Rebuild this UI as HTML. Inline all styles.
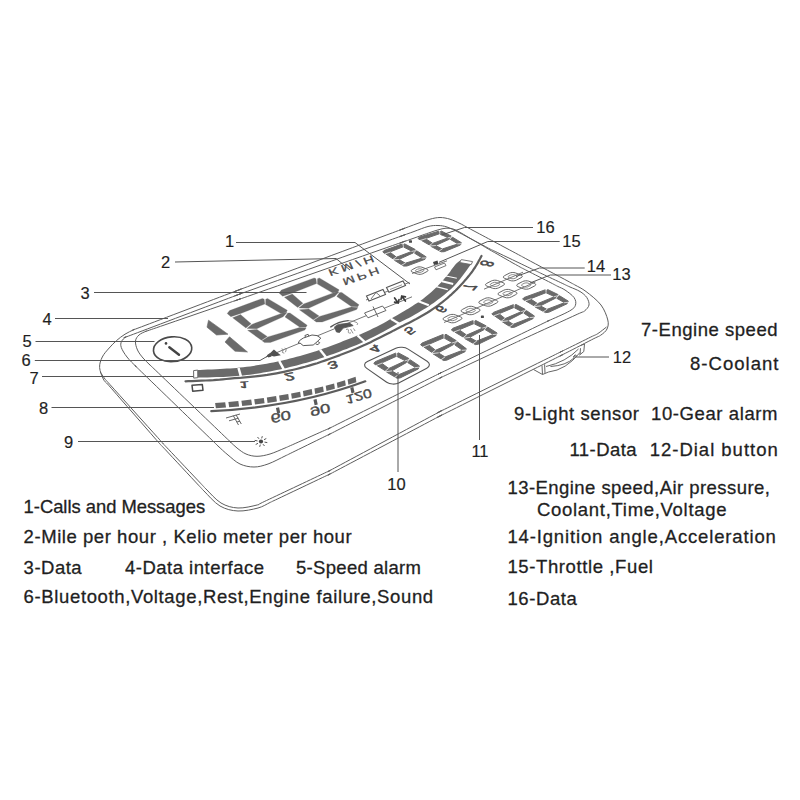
<!DOCTYPE html>
<html><head><meta charset="utf-8"><title>HUD diagram</title>
<style>
html,body{margin:0;padding:0;background:#fff;}
body{width:800px;height:800px;overflow:hidden;}
svg{display:block;font-family:"Liberation Sans",sans-serif;}
</style></head><body>
<svg width="800" height="800" viewBox="0 0 800 800">
<rect width="800" height="800" fill="#fff"/>
<path d="M134.0 329.6 C136.7 328.4 125.1 333.0 141.5 326.8 C157.9 320.6 216.1 298.5 232.5 292.3 C248.9 286.1 237.5 290.4 240.0 289.5 C242.5 288.6 222.1 296.2 247.5 286.7 C272.9 277.3 367.1 242.2 392.5 232.8 C417.9 223.3 395.8 231.6 400.0 230.0 C404.2 228.4 413.0 225.1 418.0 223.3 C423.0 221.5 426.3 220.2 430.0 219.2 C433.7 218.2 436.7 217.5 440.0 217.5 C443.3 217.5 446.7 218.2 450.0 219.2 C453.3 220.2 457.2 222.2 460.0 223.5 C462.8 224.8 463.2 225.2 467.1 227.3 C470.9 229.3 479.1 233.7 482.9 235.7 C486.8 237.8 487.6 238.2 490.0 239.5 C492.4 240.8 493.2 241.2 497.1 243.3 C500.9 245.3 509.1 249.7 512.9 251.7 C516.8 253.8 517.6 254.2 520.0 255.5 C522.4 256.8 519.1 255.0 527.0 259.3 C535.0 263.6 560.0 276.9 568.0 281.2 C575.9 285.5 572.0 283.3 575.0 285.0 C578.0 286.7 581.7 288.2 586.0 291.5 C590.3 294.8 597.4 300.2 601.0 305.0 C604.6 309.8 606.8 316.0 607.8 320.0 C608.8 324.0 608.1 326.5 607.0 329.0 C605.9 331.5 603.2 333.4 601.0 335.0 C598.8 336.6 599.5 335.8 593.9 338.6 C588.2 341.5 572.8 349.5 567.1 352.4 C561.5 355.2 562.4 354.8 560.0 356.0 C557.6 357.2 571.7 350.2 552.8 359.6 C534.0 369.0 466.0 403.0 447.2 412.4 C428.3 421.8 442.4 414.8 440.0 416.0 C437.6 417.2 450.1 410.7 432.9 419.7 C415.8 428.8 354.2 461.2 337.1 470.3 C319.9 479.3 332.4 472.8 330.0 474.0 C327.6 475.2 331.6 473.3 322.8 477.4 C314.0 481.6 286.0 494.9 277.2 499.1 C268.4 503.2 273.2 501.0 270.0 502.5 C266.8 504.0 263.3 506.6 258.0 508.0 C252.7 509.4 244.3 511.3 238.0 511.0 C231.7 510.7 225.7 509.3 220.0 506.0 C214.3 502.7 207.6 494.5 204.0 491.0 C200.4 487.5 205.0 492.0 198.5 485.2 C192.1 478.3 171.9 456.7 165.5 449.8 C159.0 443.0 161.8 446.0 160.0 444.0 C158.2 442.0 162.6 447.0 154.7 438.0 C146.9 429.0 120.6 399.0 112.8 390.0 C104.9 381.0 109.1 385.8 107.5 384.0 C105.9 382.2 104.6 381.8 103.3 379.0 C102.0 376.2 99.8 371.2 99.6 367.5 C99.4 363.8 100.7 360.2 102.3 357.0 C103.9 353.8 106.8 350.7 109.2 348.0 C111.6 345.3 113.9 342.9 116.5 340.6 C119.1 338.3 122.1 336.0 125.0 334.2 C127.9 332.4 131.3 330.8 134.0 329.6 Z" fill="none" stroke="#5e5e5e" stroke-width="1" />
<path d="M126.0 337.0 C128.0 335.8 115.7 340.9 133.5 334.2 C151.2 327.5 214.8 303.5 232.5 296.8 C250.3 290.1 237.5 294.9 240.0 294.0 C242.5 293.1 222.1 300.4 247.5 291.3 C272.9 282.2 367.1 248.3 392.5 239.2 C417.9 230.1 396.4 237.8 400.0 236.5 C403.6 235.2 409.3 233.2 414.0 231.5 C418.7 229.8 424.0 227.5 428.0 226.5 C432.0 225.5 434.8 225.4 438.0 225.5 C441.2 225.6 443.7 225.9 447.0 227.0 C450.3 228.1 455.0 230.5 458.0 232.0 C461.0 233.5 460.9 233.5 465.1 235.8 C469.2 238.0 478.8 243.0 482.9 245.2 C487.1 247.5 487.6 247.8 490.0 249.0 C492.4 250.2 490.9 249.4 497.2 252.4 C503.5 255.5 521.5 264.0 527.8 267.1 C534.1 270.1 532.6 269.4 535.0 270.5 C537.4 271.6 537.6 271.7 542.2 273.9 C546.9 276.1 558.1 281.4 562.8 283.6 C567.4 285.8 567.1 285.7 570.0 287.0 C572.9 288.3 577.2 289.8 580.0 291.5 C582.8 293.2 585.2 295.2 586.8 297.5 C588.2 299.8 589.4 302.8 589.0 305.0 C588.6 307.2 586.5 309.4 584.5 311.0 C582.5 312.6 586.8 310.0 577.2 314.3 C567.7 318.7 536.8 332.8 527.3 337.2 C517.7 341.5 522.4 339.4 520.0 340.5 C517.6 341.6 524.9 338.2 512.8 343.9 C500.6 349.6 459.4 368.9 447.2 374.6 C435.1 380.3 442.4 376.8 440.0 378.0 C437.6 379.2 450.0 372.9 432.9 381.6 C415.7 390.4 354.3 421.6 337.1 430.4 C320.0 439.1 332.4 432.8 330.0 434.0 C327.6 435.2 329.1 434.4 322.8 437.5 C316.5 440.6 298.5 449.4 292.2 452.5 C285.9 455.6 289.0 454.1 285.0 456.0 C281.0 457.9 273.2 462.2 268.0 464.0 C262.8 465.8 258.7 467.0 254.0 467.0 C249.3 467.0 244.3 466.0 240.0 464.0 C235.7 462.0 231.7 458.0 228.0 455.0 C224.3 452.0 220.6 448.4 218.0 446.0 C215.4 443.6 225.0 452.8 212.3 440.4 C199.5 428.1 154.5 384.4 141.7 372.1 C129.0 359.7 138.5 369.0 136.0 366.5 C133.5 364.0 129.4 360.2 127.0 357.0 C124.5 353.8 122.2 350.1 121.3 347.5 C120.4 344.9 120.7 343.2 121.5 341.5 C122.3 339.8 124.0 338.2 126.0 337.0 Z" fill="none" stroke="#5e5e5e" stroke-width="1" />
<path d="M146.0 331.3 C148.4 330.3 139.2 333.7 153.6 328.7 C168.0 323.8 218.0 306.5 232.4 301.6 C246.8 296.6 237.5 299.9 240.0 299.0 C242.5 298.1 222.1 305.3 247.6 296.4 C273.0 287.5 367.0 254.5 392.4 245.6 C417.9 236.7 397.5 243.9 400.0 243.0 C402.5 242.1 403.8 241.7 407.6 240.4 C411.3 239.0 418.7 236.5 422.4 235.1 C426.2 233.8 427.4 233.4 430.0 232.5 C432.6 231.6 435.3 230.6 438.0 229.9 C440.7 229.2 443.3 228.3 446.0 228.2 C448.7 228.1 451.3 228.4 454.0 229.3 C456.7 230.2 459.5 232.1 462.0 233.5 C464.5 234.9 465.4 235.5 468.9 237.6 C472.4 239.6 479.6 243.9 483.1 245.9 C486.6 248.0 487.7 248.7 490.0 250.0 C492.3 251.3 493.1 251.8 497.0 253.9 C500.8 256.1 509.2 260.9 513.0 263.1 C516.9 265.2 517.7 265.7 520.0 267.0 C522.3 268.3 522.0 268.0 527.1 270.7 C532.3 273.3 545.7 280.2 550.9 282.8 C556.0 285.5 555.6 285.3 558.0 286.5 C560.4 287.7 562.3 288.2 565.0 290.0 C567.7 291.8 572.2 295.0 574.0 297.5 C575.8 300.0 576.2 302.8 575.5 305.0 C574.8 307.2 574.1 308.3 569.5 311.0 C564.9 313.7 552.8 318.8 548.0 321.0 C543.2 323.2 557.6 316.4 540.8 324.5 C524.0 332.6 464.0 361.6 447.2 369.8 C430.4 377.9 442.4 372.1 440.0 373.2 C437.6 374.4 450.0 368.3 432.8 376.8 C415.7 385.3 354.3 415.9 337.2 424.4 C320.0 433.0 332.4 426.9 330.0 428.0 C327.6 429.1 329.0 428.5 322.7 431.2 C316.4 434.0 298.6 442.0 292.3 444.8 C286.0 447.5 288.7 446.5 285.0 448.0 C281.3 449.5 274.7 452.6 270.0 454.0 C265.3 455.4 261.0 456.3 257.0 456.3 C253.0 456.3 249.3 455.4 246.0 454.0 C242.7 452.6 239.7 450.1 237.0 448.0 C234.3 445.9 232.1 443.5 230.0 441.5 C227.9 439.5 236.6 447.8 224.2 436.0 C211.8 424.1 168.2 382.4 155.8 370.5 C143.4 358.7 152.1 367.1 150.0 365.0 C147.9 362.9 145.1 360.5 143.0 358.0 C140.9 355.5 138.8 352.8 137.5 350.0 C136.2 347.2 135.2 343.5 135.5 341.0 C135.8 338.5 137.2 336.6 139.0 335.0 C140.8 333.4 143.6 332.3 146.0 331.3 Z" fill="none" stroke="#5e5e5e" stroke-width="1" />
<path d="M100.3 372.0 C101.0 373.1 103.0 376.4 104.6 378.5 C106.2 380.6 101.1 374.6 109.9 384.5 C118.8 394.3 148.8 427.7 157.7 437.5 C166.5 447.4 161.2 441.5 163.0 443.5 C164.8 445.5 162.2 442.7 168.5 449.3 C174.7 455.9 194.3 476.6 200.5 483.2 C206.8 489.8 202.6 485.7 206.0 489.0 C209.4 492.3 215.7 499.8 221.0 503.0 C226.3 506.2 232.0 507.7 238.0 508.0 C244.0 508.3 252.6 506.1 257.0 505.0 C261.4 503.9 253.3 506.8 264.2 501.6 C275.2 496.4 311.8 479.1 322.8 473.9 C333.7 468.7 327.6 471.7 330.0 470.5 C332.4 469.3 319.9 475.9 337.0 466.7 C354.2 457.5 415.8 424.5 433.0 415.3 C450.1 406.1 437.6 412.7 440.0 411.5 C442.4 410.3 428.4 417.2 447.2 408.0 C466.0 398.7 534.0 365.1 552.8 355.8 C571.6 346.5 557.6 353.4 560.0 352.2 C562.4 351.1 562.0 351.2 567.2 348.7 C572.3 346.2 585.7 339.6 590.8 337.0 C596.0 334.5 595.4 335.2 598.0 333.5 C600.6 331.8 605.1 328.1 606.5 327.0 " fill="none" stroke="#5e5e5e" stroke-width="1" />
<polygon points="197.7,370.0 200.2,369.9 203.6,369.8 207.6,369.6 211.9,369.4 216.2,369.2 220.0,369.0 223.5,368.8 226.8,368.6 230.1,368.4 233.4,368.2 236.7,367.9 240.0,367.6 243.3,367.2 246.7,366.8 250.0,366.4 253.3,365.9 256.7,365.3 260.0,364.8 263.3,364.2 266.7,363.7 270.0,363.0 273.3,362.4 276.7,361.7 280.0,361.0 283.3,360.2 286.7,359.4 290.0,358.6 293.3,357.7 296.7,356.8 300.0,355.9 303.3,355.0 306.7,354.0 310.0,353.0 313.3,352.0 316.7,350.9 320.0,349.8 323.3,348.6 326.7,347.5 330.0,346.2 333.3,345.0 336.7,343.7 340.0,342.4 343.3,341.1 346.7,339.8 350.0,338.5 353.3,337.2 356.7,335.8 360.0,334.4 363.3,332.9 366.7,331.4 370.0,329.9 373.3,328.3 376.7,326.7 380.0,325.0 383.4,323.2 386.9,321.2 390.5,319.1 393.9,317.1 397.1,315.2 400.0,313.5 402.5,312.0 404.7,310.7 406.7,309.6 408.6,308.4 410.5,307.3 412.5,306.0 414.6,304.6 416.7,303.3 418.8,301.9 420.8,300.4 422.9,298.9 425.0,297.3 427.1,295.6 429.3,293.8 431.4,291.9 433.5,290.0 435.6,288.1 437.5,286.2 439.3,284.3 441.1,282.4 442.8,280.5 444.4,278.6 446.0,276.8 447.5,275.0 448.9,273.2 450.3,271.4 451.5,269.6 452.7,267.9 453.9,266.4 455.0,265.0 456.1,263.8 457.2,262.8 458.2,262.0 459.1,261.3 459.9,260.7 460.5,260.2 472.3,262.3 471.5,263.4 470.5,264.9 469.3,266.6 467.9,268.6 466.5,270.5 465.0,272.5 463.5,274.5 462.0,276.5 460.3,278.7 458.6,280.8 456.8,283.0 455.0,285.0 453.1,287.0 451.1,288.9 449.0,290.8 446.9,292.6 444.7,294.4 442.5,296.2 440.3,297.9 438.1,299.6 435.9,301.3 433.6,302.9 431.2,304.6 428.8,306.2 426.1,307.9 423.4,309.6 420.5,311.3 417.7,313.0 415.0,314.6 412.5,316.0 410.3,317.2 408.3,318.2 406.5,319.1 404.6,320.0 402.5,321.0 400.0,322.3 397.1,323.9 393.9,325.7 390.5,327.7 386.9,329.7 383.4,331.7 380.0,333.5 376.7,335.2 373.3,337.0 370.0,338.6 366.7,340.3 363.3,341.9 360.0,343.4 356.7,344.9 353.3,346.2 350.0,347.6 346.7,348.9 343.3,350.1 340.0,351.4 336.7,352.7 333.3,353.9 330.0,355.1 326.7,356.3 323.3,357.5 320.0,358.6 316.7,359.7 313.3,360.7 310.0,361.7 306.7,362.7 303.3,363.6 300.0,364.5 296.7,365.4 293.3,366.2 290.0,367.1 286.7,367.9 283.3,368.7 280.0,369.4 276.7,370.1 273.3,370.8 270.0,371.4 266.7,372.1 263.3,372.6 260.0,373.2 256.7,373.7 253.3,374.2 250.0,374.7 246.7,375.1 243.3,375.5 240.0,375.8 236.7,376.1 233.4,376.3 230.1,376.5 226.8,376.7 223.5,376.9 220.0,377.0 216.2,377.1 211.9,377.3 207.6,377.4 203.6,377.5 200.2,377.5 197.7,377.6" fill="#6a6a6a" />
<polyline points="185.5,381.3 188.2,381.2 192.0,381.1 196.5,380.9 201.3,380.7 205.9,380.5 210.0,380.3 213.5,380.1 216.6,379.8 219.7,379.6 222.8,379.3 226.1,379.0 230.0,378.6 234.5,378.2 239.6,377.8 245.0,377.3 250.4,376.8 255.5,376.3 260.0,375.8 263.9,375.3 267.2,374.9 270.3,374.4 273.3,373.9 276.5,373.3 280.0,372.6 283.9,371.8 288.0,370.9 292.2,370.0 296.5,369.0 300.8,367.9 305.0,366.8 309.1,365.6 313.1,364.4 317.2,363.2 321.3,361.8 325.5,360.4 330.0,358.8 334.8,357.0 340.0,355.1 345.3,353.0 350.6,350.9 355.5,348.9 360.0,347.0 363.9,345.3 367.4,343.7 370.6,342.2 373.7,340.6 376.8,339.1 380.0,337.5 383.4,335.8 386.9,334.0 390.5,332.2 393.9,330.4 397.1,328.8 400.0,327.3 402.5,326.1 404.5,325.0 406.4,324.1 408.2,323.2 410.2,322.2 412.5,321.0 415.2,319.6 418.1,318.0 421.1,316.3 424.2,314.5 427.2,312.8 430.0,311.0 432.7,309.2 435.3,307.4 437.8,305.6 440.3,303.7 442.7,301.9 445.0,300.0 447.3,298.1 449.4,296.2 451.6,294.3 453.6,292.4 455.6,290.5 457.5,288.6 459.3,286.7 461.1,284.8 462.8,283.0 464.4,281.1 466.0,279.3 467.5,277.5 468.9,275.8 470.2,274.1 471.5,272.5 472.7,270.9 473.8,269.2 475.0,267.5 476.2,265.5 477.5,263.4 478.7,261.1 479.9,259.0 480.8,257.3 481.5,256.0" fill="none" stroke="#606060" stroke-width="2.2" stroke-linecap="round" stroke-linejoin="round"/>
<polygon points="193.6,370.6 197.7,370.1 197.8,377.7 193.7,378.1" fill="#fff" stroke="#6a6a6a" stroke-width="1" stroke-linejoin="round"/>
<polygon points="461.3,259.6 472.6,261.6 471.2,264.6 459.6,262.5" fill="#fff" stroke="#6a6a6a" stroke-width="0.9" stroke-linejoin="round"/>
<line x1="238.5" y1="368.0" x2="240.9" y2="376.4" stroke="#fff" stroke-width="2.5"/>
<line x1="279.2" y1="361.0" x2="283.8" y2="369.4" stroke="#fff" stroke-width="2.5"/>
<line x1="320.0" y1="349.8" x2="326.4" y2="357.8" stroke="#fff" stroke-width="2.4"/>
<line x1="357.5" y1="335.4" x2="365.5" y2="342.6" stroke="#fff" stroke-width="2.3"/>
<line x1="390.9" y1="318.8" x2="400.1" y2="324.2" stroke="#fff" stroke-width="2.2"/>
<line x1="418.4" y1="301.3" x2="428.8" y2="305.3" stroke="#fff" stroke-width="2.0"/>
<line x1="436.2" y1="286.6" x2="447.8" y2="289.6" stroke="#fff" stroke-width="1.2"/>
<line x1="442.0" y1="281.2" x2="453.2" y2="284.0" stroke="#fff" stroke-width="2.2"/>
<line x1="446.0" y1="276.0" x2="456.8" y2="278.2" stroke="#fff" stroke-width="1.1"/>
<polygon points="279.0,293.0 281.4,290.1 314.2,277.9 316.0,278.7 316.6,283.6 293.2,292.7 282.7,296.2" fill="#6a6a6a" stroke="#6a6a6a" stroke-width="0.25" stroke-linejoin="round"/>
<polygon points="284.4,297.2 292.3,294.0 302.9,303.2 297.7,307.5" fill="#6a6a6a" stroke="#6a6a6a" stroke-width="0.25" stroke-linejoin="round"/>
<polygon points="298.8,308.0 303.6,303.9 335.9,291.9 338.9,292.1 334.9,296.3 308.6,308.3" fill="#6a6a6a" stroke="#6a6a6a" stroke-width="0.25" stroke-linejoin="round"/>
<polygon points="299.4,309.8 308.8,308.9 319.0,315.9 313.3,319.8" fill="#6a6a6a" stroke="#6a6a6a" stroke-width="0.25" stroke-linejoin="round"/>
<polygon points="317.5,278.7 319.3,277.9 339.1,289.8 338.1,291.7 332.8,293.1 317.4,284.1" fill="#6a6a6a" stroke="#6a6a6a" stroke-width="0.25" stroke-linejoin="round"/>
<polygon points="339.6,292.6 341.8,292.4 359.0,304.8 357.7,306.8 351.3,306.5 336.8,296.5" fill="#6a6a6a" stroke="#6a6a6a" stroke-width="0.25" stroke-linejoin="round"/>
<polygon points="313.8,320.2 319.5,316.4 351.3,307.0 357.9,307.4 356.6,309.6 322.2,322.0 316.3,322.1" fill="#6a6a6a" stroke="#6a6a6a" stroke-width="0.25" stroke-linejoin="round"/>
<polygon points="227.2,313.5 229.6,310.6 262.4,298.4 264.2,299.2 264.8,304.1 241.4,313.2 230.9,316.7" fill="#6a6a6a" stroke="#6a6a6a" stroke-width="0.25" stroke-linejoin="round"/>
<polygon points="232.6,317.7 240.5,314.5 251.1,323.7 245.9,328.0" fill="#6a6a6a" stroke="#6a6a6a" stroke-width="0.25" stroke-linejoin="round"/>
<polygon points="247.0,328.5 251.8,324.4 284.1,312.4 287.1,312.6 283.1,316.8 256.8,328.8" fill="#6a6a6a" stroke="#6a6a6a" stroke-width="0.25" stroke-linejoin="round"/>
<polygon points="247.6,330.3 257.0,329.4 267.2,336.4 261.5,340.3" fill="#6a6a6a" stroke="#6a6a6a" stroke-width="0.25" stroke-linejoin="round"/>
<polygon points="265.7,299.2 267.5,298.4 287.3,310.3 286.3,312.2 281.0,313.6 265.6,304.6" fill="#6a6a6a" stroke="#6a6a6a" stroke-width="0.25" stroke-linejoin="round"/>
<polygon points="287.8,313.1 290.0,312.9 307.2,325.3 305.9,327.3 299.5,327.0 285.0,317.0" fill="#6a6a6a" stroke="#6a6a6a" stroke-width="0.25" stroke-linejoin="round"/>
<polygon points="262.0,340.7 267.7,336.9 299.5,327.5 306.1,327.9 304.8,330.1 270.4,342.5 264.5,342.6" fill="#6a6a6a" stroke="#6a6a6a" stroke-width="0.25" stroke-linejoin="round"/>
<polygon points="208.5,320.2 228.0,334.2 216.5,335.0 207.0,327.2" fill="#6a6a6a" stroke="#6a6a6a" stroke-width="0.6" stroke-linejoin="round"/>
<polygon points="229.5,336.8 247.5,352.0 235.0,351.2 225.0,342.0" fill="#6a6a6a" stroke="#6a6a6a" stroke-width="0.6" stroke-linejoin="round"/>
<polygon points="382.8,252.0 384.0,250.5 401.9,244.0 402.9,244.3 403.2,246.8 390.5,251.7 384.8,253.6" fill="#6a6a6a" stroke="#6a6a6a" stroke-width="1.0" stroke-linejoin="round"/>
<polygon points="385.8,254.0 390.1,252.3 396.0,256.8 393.3,259.0" fill="#6a6a6a" stroke="#6a6a6a" stroke-width="1.0" stroke-linejoin="round"/>
<polygon points="393.9,259.3 396.4,257.2 413.7,250.7 415.3,250.8 413.2,252.9 399.2,259.3" fill="#6a6a6a" stroke="#6a6a6a" stroke-width="1.0" stroke-linejoin="round"/>
<polygon points="394.3,260.2 399.3,259.6 405.0,263.0 402.0,265.0" fill="#6a6a6a" stroke="#6a6a6a" stroke-width="1.0" stroke-linejoin="round"/>
<polygon points="403.7,244.3 404.7,243.9 415.4,249.6 414.9,250.6 412.0,251.3 403.6,247.0" fill="#6a6a6a" stroke="#6a6a6a" stroke-width="1.0" stroke-linejoin="round"/>
<polygon points="415.7,251.0 416.9,250.9 426.2,256.9 425.6,257.9 422.1,257.9 414.3,253.0" fill="#6a6a6a" stroke="#6a6a6a" stroke-width="1.0" stroke-linejoin="round"/>
<polygon points="402.3,265.2 405.3,263.2 422.1,258.1 425.7,258.2 425.0,259.3 406.9,266.0 403.7,266.1" fill="#6a6a6a" stroke="#6a6a6a" stroke-width="1.0" stroke-linejoin="round"/>
<polyline points="384.6,254.1 390.5,252.0" fill="none" stroke="#fff" stroke-width="0.7" />
<polyline points="402.8,243.7 403.5,246.8" fill="none" stroke="#fff" stroke-width="0.7" />
<polyline points="392.6,259.7 396.3,257.0" fill="none" stroke="#fff" stroke-width="0.7" />
<polyline points="393.5,259.9 399.4,259.4" fill="none" stroke="#fff" stroke-width="0.7" />
<polyline points="411.5,251.5 414.7,250.7 416.0,249.5" fill="none" stroke="#fff" stroke-width="0.7" />
<polyline points="415.7,250.7 413.7,253.0" fill="none" stroke="#fff" stroke-width="0.7" />
<polyline points="401.2,265.5 405.5,263.0" fill="none" stroke="#fff" stroke-width="0.7" />
<polyline points="421.7,258.1 426.5,257.9" fill="none" stroke="#fff" stroke-width="0.7" />
<polygon points="418.0,238.5 419.3,237.1 438.6,231.2 439.5,231.5 439.6,233.7 426.3,238.3 420.3,240.0" fill="#6a6a6a" stroke="#6a6a6a" stroke-width="1.0" stroke-linejoin="round"/>
<polygon points="421.4,240.4 425.9,238.9 432.2,243.0 429.6,245.1" fill="#6a6a6a" stroke="#6a6a6a" stroke-width="1.0" stroke-linejoin="round"/>
<polygon points="430.3,245.4 432.7,243.4 449.7,237.2 451.3,237.3 449.2,239.3 435.7,245.4" fill="#6a6a6a" stroke="#6a6a6a" stroke-width="1.0" stroke-linejoin="round"/>
<polygon points="430.8,246.3 435.8,245.6 441.9,248.8 439.3,250.8" fill="#6a6a6a" stroke="#6a6a6a" stroke-width="1.0" stroke-linejoin="round"/>
<polygon points="440.4,231.5 441.4,231.1 451.5,236.2 450.9,237.1 448.1,237.8 440.0,234.0" fill="#6a6a6a" stroke="#6a6a6a" stroke-width="1.0" stroke-linejoin="round"/>
<polygon points="451.7,237.5 452.8,237.4 461.4,242.7 460.9,243.7 457.7,243.7 450.2,239.3" fill="#6a6a6a" stroke="#6a6a6a" stroke-width="1.0" stroke-linejoin="round"/>
<polygon points="439.6,251.0 442.2,249.0 457.7,244.0 461.0,243.9 460.4,245.0 444.2,251.7 441.1,251.8" fill="#6a6a6a" stroke="#6a6a6a" stroke-width="1.0" stroke-linejoin="round"/>
<polyline points="420.1,240.5 426.2,238.6" fill="none" stroke="#fff" stroke-width="0.7" />
<polyline points="439.5,230.9 439.9,233.8" fill="none" stroke="#fff" stroke-width="0.7" />
<polyline points="429.1,245.8 432.5,243.2" fill="none" stroke="#fff" stroke-width="0.7" />
<polyline points="430.0,246.0 435.9,245.5" fill="none" stroke="#fff" stroke-width="0.7" />
<polyline points="447.6,237.9 450.7,237.2 452.0,236.1" fill="none" stroke="#fff" stroke-width="0.7" />
<polyline points="451.7,237.2 449.6,239.3" fill="none" stroke="#fff" stroke-width="0.7" />
<polyline points="438.6,251.3 442.4,248.9" fill="none" stroke="#fff" stroke-width="0.7" />
<polyline points="457.3,243.9 461.7,243.7" fill="none" stroke="#fff" stroke-width="0.7" />
<rect x="409" y="240.2" width="3" height="2.6" rx="0.6" fill="#4a4a4a"/>
<polygon points="420.6,344.8 422.1,343.0 442.9,334.5 443.9,334.9 443.9,337.8 429.4,344.1 422.9,346.5" fill="#6a6a6a" stroke="#6a6a6a" stroke-width="1.0" stroke-linejoin="round"/>
<polygon points="423.9,347.0 428.8,344.9 435.1,349.9 432.1,352.6" fill="#6a6a6a" stroke="#6a6a6a" stroke-width="1.0" stroke-linejoin="round"/>
<polygon points="432.7,352.9 435.5,350.3 454.3,342.0 456.0,342.0 453.5,344.6 438.4,352.7" fill="#6a6a6a" stroke="#6a6a6a" stroke-width="1.0" stroke-linejoin="round"/>
<polygon points="433.2,353.9 438.6,353.0 444.6,356.7 441.6,359.3" fill="#6a6a6a" stroke="#6a6a6a" stroke-width="1.0" stroke-linejoin="round"/>
<polygon points="444.8,334.8 446.0,334.3 456.3,340.7 455.6,341.8 452.5,342.8 444.3,338.1" fill="#6a6a6a" stroke="#6a6a6a" stroke-width="1.0" stroke-linejoin="round"/>
<polygon points="456.4,342.3 457.6,342.1 466.4,348.8 465.6,350.0 462.2,350.1 454.6,344.7" fill="#6a6a6a" stroke="#6a6a6a" stroke-width="1.0" stroke-linejoin="round"/>
<polygon points="441.9,359.4 444.9,357.0 462.2,350.4 465.7,350.4 465.0,351.7 446.7,360.2 443.4,360.5" fill="#6a6a6a" stroke="#6a6a6a" stroke-width="1.0" stroke-linejoin="round"/>
<polyline points="422.6,347.2 429.3,344.5" fill="none" stroke="#fff" stroke-width="0.7" />
<polyline points="444.0,334.1 444.1,337.9" fill="none" stroke="#fff" stroke-width="0.7" />
<polyline points="431.4,353.4 435.4,350.1" fill="none" stroke="#fff" stroke-width="0.7" />
<polyline points="432.4,353.6 438.7,352.8" fill="none" stroke="#fff" stroke-width="0.7" />
<polyline points="451.9,343.0 455.4,342.0 456.9,340.5" fill="none" stroke="#fff" stroke-width="0.7" />
<polyline points="456.4,341.9 454.0,344.7" fill="none" stroke="#fff" stroke-width="0.7" />
<polyline points="440.8,359.9 445.1,356.8" fill="none" stroke="#fff" stroke-width="0.7" />
<polyline points="461.8,350.3 466.5,350.0" fill="none" stroke="#fff" stroke-width="0.7" />
<polygon points="451.4,330.0 452.8,328.3 472.8,320.7 473.8,321.0 473.9,323.6 460.0,329.4 453.8,331.6" fill="#6a6a6a" stroke="#6a6a6a" stroke-width="1.0" stroke-linejoin="round"/>
<polygon points="454.9,332.1 459.6,330.1 466.1,334.7 463.4,337.2" fill="#6a6a6a" stroke="#6a6a6a" stroke-width="1.0" stroke-linejoin="round"/>
<polygon points="464.1,337.5 466.6,335.1 484.6,327.2 486.3,327.2 484.1,329.6 469.7,337.3" fill="#6a6a6a" stroke="#6a6a6a" stroke-width="1.0" stroke-linejoin="round"/>
<polygon points="464.6,338.5 469.9,337.6 476.1,341.0 473.3,343.4" fill="#6a6a6a" stroke="#6a6a6a" stroke-width="1.0" stroke-linejoin="round"/>
<polygon points="474.7,321.0 475.8,320.5 486.4,326.0 485.9,327.0 482.9,328.0 474.4,323.9" fill="#6a6a6a" stroke="#6a6a6a" stroke-width="1.0" stroke-linejoin="round"/>
<polygon points="486.7,327.4 487.9,327.2 497.1,333.0 496.4,334.2 493.0,334.3 485.1,329.6" fill="#6a6a6a" stroke="#6a6a6a" stroke-width="1.0" stroke-linejoin="round"/>
<polygon points="473.7,343.6 476.4,341.2 493.0,334.6 496.5,334.5 495.9,335.7 478.4,344.2 475.2,344.6" fill="#6a6a6a" stroke="#6a6a6a" stroke-width="1.0" stroke-linejoin="round"/>
<polyline points="453.6,332.2 460.0,329.7" fill="none" stroke="#fff" stroke-width="0.7" />
<polyline points="473.8,320.4 474.2,323.7" fill="none" stroke="#fff" stroke-width="0.7" />
<polyline points="462.8,338.0 466.5,334.9" fill="none" stroke="#fff" stroke-width="0.7" />
<polyline points="463.8,338.2 470.0,337.4" fill="none" stroke="#fff" stroke-width="0.7" />
<polyline points="482.3,328.1 485.7,327.1 487.1,325.8" fill="none" stroke="#fff" stroke-width="0.7" />
<polyline points="486.7,327.0 484.5,329.6" fill="none" stroke="#fff" stroke-width="0.7" />
<polyline points="472.6,344.0 476.7,341.0" fill="none" stroke="#fff" stroke-width="0.7" />
<polyline points="492.7,334.6 497.3,334.1" fill="none" stroke="#fff" stroke-width="0.7" />
<polygon points="491.8,314.0 493.4,312.4 513.3,304.7 514.2,305.0 513.9,307.5 500.0,313.3 493.7,315.5" fill="#6a6a6a" stroke="#6a6a6a" stroke-width="1.0" stroke-linejoin="round"/>
<polygon points="494.6,315.9 499.4,314.0 504.7,318.2 501.6,320.7" fill="#6a6a6a" stroke="#6a6a6a" stroke-width="1.0" stroke-linejoin="round"/>
<polygon points="502.2,321.0 505.1,318.6 523.5,310.7 525.1,310.7 522.6,313.0 507.6,320.7" fill="#6a6a6a" stroke="#6a6a6a" stroke-width="1.0" stroke-linejoin="round"/>
<polygon points="502.5,321.9 507.7,320.9 512.9,324.1 509.8,326.5" fill="#6a6a6a" stroke="#6a6a6a" stroke-width="1.0" stroke-linejoin="round"/>
<polygon points="515.0,304.9 516.1,304.5 525.4,309.5 524.7,310.5 521.7,311.5 514.3,307.7" fill="#6a6a6a" stroke="#6a6a6a" stroke-width="1.0" stroke-linejoin="round"/>
<polygon points="525.4,310.9 526.6,310.7 534.5,316.1 533.6,317.2 530.3,317.4 523.6,313.0" fill="#6a6a6a" stroke="#6a6a6a" stroke-width="1.0" stroke-linejoin="round"/>
<polygon points="510.1,326.6 513.2,324.3 530.3,317.7 533.7,317.5 532.9,318.7 514.5,327.2 511.3,327.5" fill="#6a6a6a" stroke="#6a6a6a" stroke-width="1.0" stroke-linejoin="round"/>
<polyline points="493.4,316.1 499.8,313.6" fill="none" stroke="#fff" stroke-width="0.7" />
<polyline points="514.2,304.4 514.2,307.5" fill="none" stroke="#fff" stroke-width="0.7" />
<polyline points="500.9,321.5 505.0,318.4" fill="none" stroke="#fff" stroke-width="0.7" />
<polyline points="501.8,321.6 507.8,320.8" fill="none" stroke="#fff" stroke-width="0.7" />
<polyline points="521.2,311.6 524.5,310.6 526.0,309.3" fill="none" stroke="#fff" stroke-width="0.7" />
<polyline points="525.5,310.5 523.0,313.0" fill="none" stroke="#fff" stroke-width="0.7" />
<polyline points="509.0,327.1 513.4,324.1" fill="none" stroke="#fff" stroke-width="0.7" />
<polyline points="530.0,317.6 534.5,317.1" fill="none" stroke="#fff" stroke-width="0.7" />
<polygon points="522.6,299.1 524.1,297.5 544.9,289.9 545.9,290.2 545.9,292.7 531.4,298.4 524.9,300.6" fill="#6a6a6a" stroke="#6a6a6a" stroke-width="1.0" stroke-linejoin="round"/>
<polygon points="525.9,301.0 530.8,299.1 537.1,303.3 534.1,305.8" fill="#6a6a6a" stroke="#6a6a6a" stroke-width="1.0" stroke-linejoin="round"/>
<polygon points="534.7,306.1 537.5,303.7 556.3,295.9 558.0,295.8 555.5,298.2 540.4,305.8" fill="#6a6a6a" stroke="#6a6a6a" stroke-width="1.0" stroke-linejoin="round"/>
<polygon points="535.2,307.0 540.6,306.0 546.6,309.2 543.6,311.6" fill="#6a6a6a" stroke="#6a6a6a" stroke-width="1.0" stroke-linejoin="round"/>
<polygon points="546.8,290.1 548.0,289.7 558.3,294.7 557.6,295.6 554.5,296.6 546.3,292.9" fill="#6a6a6a" stroke="#6a6a6a" stroke-width="1.0" stroke-linejoin="round"/>
<polygon points="558.4,296.1 559.6,295.8 568.4,301.2 567.6,302.3 564.2,302.5 556.6,298.2" fill="#6a6a6a" stroke="#6a6a6a" stroke-width="1.0" stroke-linejoin="round"/>
<polygon points="543.9,311.7 546.9,309.4 564.2,302.8 567.7,302.6 567.0,303.8 548.7,312.3 545.4,312.6" fill="#6a6a6a" stroke="#6a6a6a" stroke-width="1.0" stroke-linejoin="round"/>
<polyline points="524.6,301.2 531.3,298.7" fill="none" stroke="#fff" stroke-width="0.7" />
<polyline points="546.0,289.6 546.1,292.7" fill="none" stroke="#fff" stroke-width="0.7" />
<polyline points="533.4,306.6 537.4,303.5" fill="none" stroke="#fff" stroke-width="0.7" />
<polyline points="534.4,306.7 540.7,305.9" fill="none" stroke="#fff" stroke-width="0.7" />
<polyline points="553.9,296.8 557.4,295.8 558.9,294.5" fill="none" stroke="#fff" stroke-width="0.7" />
<polyline points="558.4,295.7 556.0,298.2" fill="none" stroke="#fff" stroke-width="0.7" />
<polyline points="542.8,312.2 547.1,309.2" fill="none" stroke="#fff" stroke-width="0.7" />
<polyline points="563.8,302.8 568.5,302.2" fill="none" stroke="#fff" stroke-width="0.7" />
<rect x="480.9" y="315.4" width="3" height="2.6" rx="0.6" fill="#4a4a4a"/>
<polygon points="373.8,363.5 375.2,361.7 395.5,353.2 396.5,353.5 396.6,356.2 382.4,362.6 376.1,365.1" fill="#6a6a6a" stroke="#6a6a6a" stroke-width="1.0" stroke-linejoin="round"/>
<polygon points="377.1,365.6 381.9,363.4 388.3,368.1 385.4,370.8" fill="#6a6a6a" stroke="#6a6a6a" stroke-width="1.0" stroke-linejoin="round"/>
<polygon points="386.1,371.1 388.8,368.5 407.2,359.9 408.8,359.9 406.5,362.5 391.8,370.8" fill="#6a6a6a" stroke="#6a6a6a" stroke-width="1.0" stroke-linejoin="round"/>
<polygon points="386.6,372.1 391.9,371.0 398.0,374.5 395.1,377.1" fill="#6a6a6a" stroke="#6a6a6a" stroke-width="1.0" stroke-linejoin="round"/>
<polygon points="397.4,353.4 398.5,352.9 409.0,358.6 408.4,359.7 405.4,360.8 397.0,356.5" fill="#6a6a6a" stroke="#6a6a6a" stroke-width="1.0" stroke-linejoin="round"/>
<polygon points="409.2,360.1 410.4,359.9 419.5,366.0 418.8,367.2 415.4,367.4 407.6,362.5" fill="#6a6a6a" stroke="#6a6a6a" stroke-width="1.0" stroke-linejoin="round"/>
<polygon points="395.5,377.3 398.4,374.8 415.4,367.7 418.9,367.5 418.3,368.9 400.2,377.9 397.0,378.2" fill="#6a6a6a" stroke="#6a6a6a" stroke-width="1.0" stroke-linejoin="round"/>
<polyline points="375.8,365.7 382.3,363.0" fill="none" stroke="#fff" stroke-width="0.7" />
<polyline points="396.5,352.8 396.8,356.3" fill="none" stroke="#fff" stroke-width="0.7" />
<polyline points="384.8,371.7 388.6,368.3" fill="none" stroke="#fff" stroke-width="0.7" />
<polyline points="385.8,371.8 392.0,370.9" fill="none" stroke="#fff" stroke-width="0.7" />
<polyline points="404.8,360.9 408.2,359.9 409.7,358.4" fill="none" stroke="#fff" stroke-width="0.7" />
<polyline points="409.3,359.7 407.0,362.5" fill="none" stroke="#fff" stroke-width="0.7" />
<polyline points="394.4,377.7 398.6,374.5" fill="none" stroke="#fff" stroke-width="0.7" />
<polyline points="415.0,367.7 419.7,367.1" fill="none" stroke="#fff" stroke-width="0.7" />
<path d="M366.8 368.4 C363.6 366.2 363.9 363.1 367.4 361.5 L395.8 348.2 C399.3 346.6 404.9 347.0 408.1 349.1 L427.1 361.2 C430.3 363.3 430.2 366.5 426.8 368.2 L398.7 383.0 C395.3 384.7 389.9 384.4 386.7 382.2 Z" fill="none" stroke="#555" stroke-width="1.1" />
<ellipse cx="172.6" cy="349.2" rx="19.2" ry="12.4" transform="rotate(-5 172.6 349.2)" fill="none" stroke="#4a4a4a" stroke-width="1.6"/>
<line x1="169.3" y1="347.2" x2="179" y2="354.8" stroke="#444" stroke-width="2.4" stroke-linecap="round"/>
<circle cx="166" cy="343.4" r="1.3" fill="#444"/>
<text transform="matrix(1.376 -0.456 -0.406 -0.914 351.3 265.8)" x="0" y="3.60" text-anchor="middle" font-size="10" fill="#4a4a4a" font-weight="normal" stroke="#4a4a4a" stroke-width="0.22" textLength="32.5" lengthAdjust="spacing">KM/H</text>
<text transform="matrix(1.370 -0.476 -0.406 -0.914 361.0 276.4)" x="0" y="3.60" text-anchor="middle" font-size="10" fill="#4a4a4a" font-weight="normal" stroke="#4a4a4a" stroke-width="0.22" textLength="26.0" lengthAdjust="spacing">MPH</text>
<text transform="matrix(1.691 -0.170 -0.105 -0.944 244.3 385.0)" x="0" y="3.60" text-anchor="middle" font-size="10" fill="#4a4a4a" font-weight="normal" stroke="#4a4a4a" stroke-width="0.45">1</text>
<text transform="matrix(1.770 -0.325 -0.331 -1.049 289.6 377.0)" x="0" y="3.60" text-anchor="middle" font-size="10" fill="#4a4a4a" font-weight="normal" stroke="#4a4a4a" stroke-width="0.45">2</text>
<text transform="matrix(1.669 -0.527 -0.492 -0.984 333.0 365.0)" x="0" y="3.60" text-anchor="middle" font-size="10" fill="#4a4a4a" font-weight="normal" stroke="#4a4a4a" stroke-width="0.45">3</text>
<text transform="matrix(1.489 -0.711 -0.690 -0.920 375.0 349.0)" x="0" y="3.60" text-anchor="middle" font-size="10" fill="#4a4a4a" font-weight="normal" stroke="#4a4a4a" stroke-width="0.45">4</text>
<text transform="matrix(1.243 -0.839 -0.979 -0.778 410.0 330.6)" x="0" y="3.60" text-anchor="middle" font-size="10" fill="#4a4a4a" font-weight="normal" stroke="#4a4a4a" stroke-width="0.45">5</text>
<text transform="matrix(0.976 -0.859 -1.258 -0.615 441.2 309.4)" x="0" y="3.60" text-anchor="middle" font-size="10" fill="#4a4a4a" font-weight="normal" stroke="#4a4a4a" stroke-width="0.45">6</text>
<text transform="matrix(0.793 -0.901 -1.637 -0.460 470.0 287.0)" x="0" y="3.60" text-anchor="middle" font-size="10" fill="#4a4a4a" font-weight="normal" stroke="#4a4a4a" stroke-width="0.45">7</text>
<text transform="matrix(0.548 -0.954 -1.767 -0.343 487.5 263.7)" x="0" y="3.60" text-anchor="middle" font-size="10" fill="#4a4a4a" font-weight="normal" stroke="#4a4a4a" stroke-width="0.45">8</text>
<polygon points="192.0,385.2 202.3,384.4 203.0,390.3 192.7,391.2" fill="none" stroke="#4a4a4a" stroke-width="1.5" stroke-linejoin="round"/>
<text transform="matrix(1.813 -0.370 -0.195 -1.285 280.7 417.0)" x="0" y="3.60" text-anchor="middle" font-size="10" fill="#4a4a4a" font-weight="normal" stroke="#4a4a4a" stroke-width="0.28">60</text>
<text transform="matrix(1.791 -0.462 -0.260 -1.274 320.2 410.0)" x="0" y="3.60" text-anchor="middle" font-size="10" fill="#4a4a4a" font-weight="normal" stroke="#4a4a4a" stroke-width="0.28">90</text>
<text transform="matrix(1.526 -0.482 -0.312 -1.210 358.8 396.6)" x="0" y="3.60" text-anchor="middle" font-size="10" fill="#4a4a4a" font-weight="normal" stroke="#4a4a4a" stroke-width="0.28">120</text>
<polygon points="215.1,402.9 225.2,402.2 226.0,407.6 215.9,408.3" fill="#666" />
<polygon points="228.4,401.9 238.3,401.0 239.1,406.4 229.2,407.3" fill="#666" />
<polygon points="241.4,400.7 251.2,399.6 252.0,405.0 242.2,406.1" fill="#666" />
<polygon points="254.2,399.2 263.8,397.9 264.6,403.3 255.0,404.6" fill="#666" />
<polygon points="266.8,397.5 276.1,396.1 276.9,401.5 267.6,402.9" fill="#666" />
<polygon points="279.1,395.6 288.2,394.0 289.0,399.4 279.9,401.0" fill="#666" />
<polygon points="291.1,393.4 300.1,391.7 300.9,397.1 291.9,398.8" fill="#666" />
<polygon points="302.9,391.1 311.7,389.1 312.5,394.5 303.7,396.5" fill="#666" />
<polygon points="314.4,388.5 323.0,386.4 323.8,391.8 315.2,393.9" fill="#666" />
<polygon points="325.7,385.7 334.1,383.4 334.9,388.8 326.5,391.1" fill="#666" />
<polygon points="336.8,382.7 345.0,380.2 345.8,385.6 337.6,388.1" fill="#666" />
<polygon points="347.6,379.4 355.6,376.8 356.4,382.2 348.4,384.8" fill="#666" />
<path d="M211.3 411.2 Q296 407 365.3 381.3" fill="none" stroke="#5c5c5c" stroke-width="2.2" stroke-linecap="round"/>
<line x1="277.5" y1="407.6" x2="278.7" y2="413.2" stroke="#5a5a5a" stroke-width="3.2"/>
<line x1="315.0" y1="399.3" x2="316.2" y2="404.9" stroke="#5a5a5a" stroke-width="3.2"/>
<line x1="351.8" y1="387.3" x2="353.0" y2="392.9" stroke="#5a5a5a" stroke-width="3.2"/>
<g stroke="#666" stroke-width="1" fill="none"><path d="M226 418 L240 414 M229 420.8 L238.5 418.2 M233.2 415.5 L238.5 425 M236 414.8 L241.3 424 M236.8 422 L240 421.2"/></g>
<circle cx="261" cy="441.5" r="2.1" fill="#444"/>
<g stroke="#555" stroke-width="1">
<line x1="264.5" y1="442.1" x2="267.3" y2="442.6"/>
<line x1="263.0" y1="444.2" x2="264.5" y2="446.0"/>
<line x1="260.3" y1="444.6" x2="259.7" y2="446.8"/>
<line x1="258.0" y1="443.3" x2="255.7" y2="444.5"/>
<line x1="257.5" y1="440.9" x2="254.7" y2="440.4"/>
<line x1="259.0" y1="438.8" x2="257.5" y2="437.0"/>
<line x1="261.7" y1="438.4" x2="262.3" y2="436.2"/>
<line x1="264.0" y1="439.7" x2="266.3" y2="438.5"/>
</g>
<polyline points="266.0,357.0 412.0,296.8" fill="none" stroke="#666" stroke-width="0.9" />
<polygon points="268.2,355.0 273.9,349.6 280.8,355.2 274.0,356.4" fill="#505050" />
<polygon points="266.8,355.2 269.8,353.2 271.6,356.6 268.4,357.6" fill="#505050" />
<path d="M281.5 348.8 q3 0.4 1.2 2.4 q-1.5 1.6 1.6 2 M284.8 347.8 q2.6 1.6 0.6 4.4" fill="none" stroke="#777" stroke-width="0.8" />
<path d="M303.2 338.1 L312 335 L317 335.6 L320.8 338.1 L317 341.9 L313.2 345 L303.2 345.6 L300.1 343.1 L298.2 343.1 L299.5 340.6 Z M305.5 337.3 l-0.6 -1.8 l3.2 -1.2 l0.8 1.9 M317.5 341.4 l2.2 1.2 l-1.6 2 l-2.4 -0.6" fill="#fff" stroke="#5a5a5a" stroke-width="1" stroke-linejoin="round"/>
<polygon points="334.5,326.9 338.2,324.4 349.5,323.1 353.2,325.6 343.2,328.1 339.5,332.5 336.4,331.9" fill="#555" stroke="#555" stroke-width="0.8" stroke-linejoin="round"/>
<path d="M330.8 326.9 Q338 321.6 348.3 320.6" fill="none" stroke="#555" stroke-width="1.4" stroke-linecap="round"/>
<path d="M348.3 320.6 q6 0.4 8.6 2 q1.6 1.2 0 2.4 M346 329.5 q3 -1.2 2.4 1.6 q-0.8 2.6 2.6 1.8 M350.5 329 l2.6 4.4 M353.5 328.4 l1.6 2.6" fill="none" stroke="#777" stroke-width="0.8" />
<polygon points="364.5,313.0 382.5,306.0 386.0,310.5 368.0,317.8" fill="#fff" stroke="#666" stroke-width="1"/>
<polyline points="373.0,306.5 378.0,317.0" fill="none" stroke="#666" stroke-width="1" />
<path d="M394.6 298 l3.6 5 M398.2 303 l-3.6 -0.8 M398.2 303 l0.8 -3.4 M405.4 301 l-3.6 -5 M401.8 296 l3.6 0.8 M401.8 296 l-0.8 3.4" fill="none" stroke="#3c3c3c" stroke-width="1.7" stroke-linecap="round"/>
<polyline points="366.0,300.0 409.5,282.3" fill="none" stroke="#666" stroke-width="0.9" />
<polygon points="366.5,296.0 383.0,289.5 385.5,294.5 369.0,301.0" fill="#fff" stroke="#555" stroke-width="1.1"/>
<polyline points="371.0,299.0 376.0,292.5 380.0,295.8" fill="none" stroke="#666" stroke-width="0.9" />
<polygon points="386.5,287.5 403.0,281.0 405.5,285.5 389.0,292.2" fill="#fff" stroke="#555" stroke-width="1.1"/>
<polyline points="390.0,289.5 402.0,284.8" fill="none" stroke="#777" stroke-width="0.8" />
<polyline points="444.0,322.5 535.5,282.0" fill="none" stroke="#666" stroke-width="0.9" />
<g fill="#fff">
<path d="M444.4 320.3 C442.6 319.7 442.5 318.4 444.2 317.6 L448.8 315.2 C450.5 314.3 453.3 314.1 455.1 314.8 L460.6 316.9 C462.4 317.5 462.5 318.8 460.8 319.6 L456.2 322.0 C454.5 322.9 451.7 323.1 449.9 322.4 Z" fill="none" stroke="#666" stroke-width="1" />
<path d="M448.6 319.6 C447.5 319.2 447.5 318.4 448.5 317.9 L450.3 317.0 C451.3 316.4 453.1 316.3 454.2 316.7 L456.4 317.6 C457.5 318.0 457.5 318.8 456.5 319.3 L454.7 320.2 C453.7 320.8 451.9 320.9 450.8 320.5 Z" fill="none" stroke="#7a7a7a" stroke-width="0.9" />
</g>
<g fill="#fff">
<path d="M462.5 312.2 C460.7 311.6 460.6 310.3 462.3 309.5 L466.9 307.1 C468.6 306.2 471.4 306.0 473.2 306.7 L478.7 308.8 C480.5 309.4 480.6 310.7 478.9 311.5 L474.3 313.9 C472.6 314.8 469.8 315.0 468.0 314.3 Z" fill="none" stroke="#666" stroke-width="1" />
<path d="M466.7 311.5 C465.6 311.1 465.6 310.3 466.6 309.8 L468.4 308.9 C469.4 308.3 471.2 308.2 472.3 308.6 L474.5 309.5 C475.6 309.9 475.6 310.7 474.6 311.2 L472.8 312.1 C471.8 312.7 470.0 312.8 468.9 312.4 Z" fill="none" stroke="#7a7a7a" stroke-width="0.9" />
</g>
<g fill="#fff">
<path d="M480.2 303.7 C478.4 303.1 478.3 301.8 480.0 301.0 L484.6 298.6 C486.3 297.7 489.1 297.5 490.9 298.2 L496.4 300.3 C498.2 300.9 498.3 302.2 496.6 303.0 L492.0 305.4 C490.3 306.3 487.5 306.5 485.7 305.8 Z" fill="none" stroke="#666" stroke-width="1" />
<path d="M484.4 303.0 C483.3 302.6 483.3 301.8 484.3 301.3 L486.1 300.4 C487.1 299.8 488.9 299.7 490.0 300.1 L492.2 301.0 C493.3 301.4 493.3 302.2 492.3 302.7 L490.5 303.6 C489.5 304.2 487.7 304.3 486.6 303.9 Z" fill="none" stroke="#7a7a7a" stroke-width="0.9" />
</g>
<g fill="#fff">
<path d="M499.4 295.3 C497.6 294.7 497.5 293.4 499.2 292.6 L503.8 290.2 C505.5 289.3 508.3 289.1 510.1 289.8 L515.6 291.9 C517.4 292.5 517.5 293.8 515.8 294.6 L511.2 297.0 C509.5 297.9 506.7 298.1 504.9 297.4 Z" fill="none" stroke="#666" stroke-width="1" />
<path d="M503.6 294.6 C502.5 294.2 502.5 293.4 503.5 292.9 L505.3 292.0 C506.3 291.4 508.1 291.3 509.2 291.7 L511.4 292.6 C512.5 293.0 512.5 293.8 511.5 294.3 L509.7 295.2 C508.7 295.8 506.9 295.9 505.8 295.5 Z" fill="none" stroke="#7a7a7a" stroke-width="0.9" />
</g>
<g fill="#fff">
<path d="M518.1 286.7 C516.3 286.1 516.2 284.8 517.9 284.0 L522.5 281.6 C524.2 280.7 527.0 280.5 528.8 281.2 L534.3 283.3 C536.1 283.9 536.2 285.2 534.5 286.0 L529.9 288.4 C528.2 289.3 525.4 289.5 523.6 288.8 Z" fill="none" stroke="#666" stroke-width="1" />
<path d="M522.3 286.0 C521.2 285.6 521.2 284.8 522.2 284.3 L524.0 283.4 C525.0 282.8 526.8 282.7 527.9 283.1 L530.1 284.0 C531.2 284.4 531.2 285.2 530.2 285.7 L528.4 286.6 C527.4 287.2 525.6 287.3 524.5 286.9 Z" fill="none" stroke="#7a7a7a" stroke-width="0.9" />
</g>
<polyline points="484.0,289.2 523.0,272.2" fill="none" stroke="#666" stroke-width="0.9" />
<g fill="#fff">
<path d="M486.9 286.1 C485.1 285.5 485.0 284.2 486.7 283.4 L491.3 281.0 C493.0 280.1 495.8 279.9 497.6 280.6 L503.1 282.7 C504.9 283.3 505.0 284.6 503.3 285.4 L498.7 287.8 C497.0 288.7 494.2 288.9 492.4 288.2 Z" fill="none" stroke="#666" stroke-width="1" />
<path d="M491.1 285.4 C490.0 285.0 490.0 284.2 491.0 283.7 L492.8 282.8 C493.8 282.2 495.6 282.1 496.7 282.5 L498.9 283.4 C500.0 283.8 500.0 284.6 499.0 285.1 L497.2 286.0 C496.2 286.6 494.4 286.7 493.3 286.3 Z" fill="none" stroke="#7a7a7a" stroke-width="0.9" />
</g>
<g fill="#fff">
<path d="M504.7 278.4 C502.9 277.8 502.8 276.5 504.5 275.7 L509.1 273.3 C510.8 272.4 513.6 272.2 515.4 272.9 L520.9 275.0 C522.7 275.6 522.8 276.9 521.1 277.7 L516.5 280.1 C514.8 281.0 512.0 281.2 510.2 280.5 Z" fill="none" stroke="#666" stroke-width="1" />
<path d="M508.9 277.7 C507.8 277.3 507.8 276.5 508.8 276.0 L510.6 275.1 C511.6 274.5 513.4 274.4 514.5 274.8 L516.7 275.7 C517.8 276.1 517.8 276.9 516.8 277.4 L515.0 278.3 C514.0 278.9 512.2 279.0 511.1 278.6 Z" fill="none" stroke="#7a7a7a" stroke-width="0.9" />
</g>
<polyline points="412.0,273.5 447.0,260.8" fill="none" stroke="#666" stroke-width="0.9" />
<g fill="#fff">
<path d="M412.4 272.1 C410.8 271.6 410.7 270.4 412.2 269.7 L416.3 267.5 C417.8 266.8 420.3 266.6 421.9 267.2 L426.8 269.1 C428.4 269.6 428.5 270.8 427.0 271.5 L422.9 273.7 C421.4 274.4 418.9 274.6 417.3 274.0 Z" fill="none" stroke="#666" stroke-width="1" />
<path d="M416.1 271.5 C415.2 271.1 415.1 270.5 416.0 270.0 L417.6 269.2 C418.5 268.7 420.1 268.6 421.1 268.9 L423.1 269.7 C424.0 270.1 424.1 270.7 423.2 271.2 L421.6 272.0 C420.7 272.5 419.1 272.6 418.1 272.3 Z" fill="none" stroke="#7a7a7a" stroke-width="0.9" />
</g>
<polygon points="434.5,267.0 444.5,263.0 446.0,265.6 436.0,269.8" fill="#fff" stroke="#666" stroke-width="0.9"/>
<polygon points="433.0,262.0 437.5,260.6 438.3,263.8 434.0,265.0" fill="#444" />
<path d="M533.5 369.5 L542.5 374.5 L548.5 372 M542.5 374.5 L542 365.5 M545 373.2 L544.6 364.3" fill="none" stroke="#666" stroke-width="1" />
<path d="M548.5 372 Q566 370 580 352.5 M546 366.5 Q566 362 578.5 349 M550.5 366.5 Q566 365.5 574 358" fill="none" stroke="#666" stroke-width="1" />
<path d="M580 345.8 L584.5 344 L583.8 351.5 L579.3 355.2 M580.5 348.2 L580 354.6 M573.5 357 l1.5 -2.2 l1.8 1.2" fill="none" stroke="#666" stroke-width="1" />
<polyline points="236.0,242.5 355.0,242.5 410.0,284.0" fill="none" stroke="#555" stroke-width="1" />
<polyline points="175.0,262.0 336.0,258.5 350.0,270.0" fill="none" stroke="#555" stroke-width="1" />
<polyline points="94.0,292.5 306.5,292.5" fill="none" stroke="#555" stroke-width="1" />
<polyline points="55.0,318.5 168.0,318.5" fill="none" stroke="#555" stroke-width="1" />
<polyline points="35.5,341.5 154.5,341.5" fill="none" stroke="#555" stroke-width="1" />
<polyline points="34.8,360.5 260.0,360.5 273.0,353.0" fill="none" stroke="#555" stroke-width="1" />
<polyline points="42.0,376.5 193.5,376.5" fill="none" stroke="#555" stroke-width="1" />
<polyline points="51.5,407.5 214.0,407.5" fill="none" stroke="#555" stroke-width="1" />
<polyline points="78.0,441.5 255.0,441.5" fill="none" stroke="#555" stroke-width="1" />
<polyline points="398.0,372.0 398.0,472.0" fill="none" stroke="#555" stroke-width="1" />
<polyline points="479.5,335.0 479.5,440.0" fill="none" stroke="#555" stroke-width="1" />
<polyline points="609.0,357.0 573.0,357.0" fill="none" stroke="#555" stroke-width="1" />
<polyline points="611.0,275.0 550.3,275.0 530.0,283.0" fill="none" stroke="#555" stroke-width="1" />
<polyline points="584.7,268.0 539.5,268.0 516.0,276.5" fill="none" stroke="#555" stroke-width="1" />
<polyline points="559.7,241.5 487.8,241.5 439.0,262.3" fill="none" stroke="#555" stroke-width="1" />
<polyline points="533.0,227.5 464.4,227.5 441.5,235.0" fill="none" stroke="#555" stroke-width="1" />
<g font-size="16.5" fill="#1f1f1f" stroke="#1f1f1f" stroke-width="0.18" text-anchor="middle">
<text x="229.5" y="247.0">1</text>
<text x="165.5" y="268.0">2</text>
<text x="85.0" y="299.0">3</text>
<text x="47.0" y="324.5">4</text>
<text x="27.0" y="347.0">5</text>
<text x="26.0" y="366.0">6</text>
<text x="34.2" y="383.5">7</text>
<text x="43.5" y="413.5">8</text>
<text x="68.5" y="447.5">9</text>
<text x="396.5" y="490.0">10</text>
<text x="480.0" y="457.0">11</text>
<text x="622.0" y="363.0">12</text>
<text x="621.5" y="280.0">13</text>
<text x="596.0" y="271.5">14</text>
<text x="571.5" y="247.0">15</text>
<text x="545.5" y="233.0">16</text>
</g>
<text x="23.6" y="512.5" font-size="18.4" fill="#1f1f1f" stroke="#1f1f1f" stroke-width="0.3" text-anchor="start" textLength="181.5" lengthAdjust="spacing" >1-Calls and Messages</text>
<text x="23.6" y="542.5" font-size="18.5" fill="#1f1f1f" stroke="#1f1f1f" stroke-width="0.3" text-anchor="start" textLength="328.0" lengthAdjust="spacing" >2-Mile per hour , Kelio meter per hour</text>
<text x="23.6" y="573.5" font-size="18.5" fill="#1f1f1f" stroke="#1f1f1f" stroke-width="0.3" text-anchor="start" textLength="58.0" lengthAdjust="spacing" >3-Data</text>
<text x="125.0" y="573.5" font-size="18.5" fill="#1f1f1f" stroke="#1f1f1f" stroke-width="0.3" text-anchor="start" textLength="139.0" lengthAdjust="spacing" >4-Data interface</text>
<text x="296.0" y="573.5" font-size="18.5" fill="#1f1f1f" stroke="#1f1f1f" stroke-width="0.3" text-anchor="start" textLength="125.0" lengthAdjust="spacing" >5-Speed alarm</text>
<text x="23.6" y="602.5" font-size="18.5" fill="#1f1f1f" stroke="#1f1f1f" stroke-width="0.3" text-anchor="start" textLength="409.5" lengthAdjust="spacing" >6-Bluetooth,Voltage,Rest,Engine failure,Sound</text>
<text x="641.0" y="336.0" font-size="18.5" fill="#1f1f1f" stroke="#1f1f1f" stroke-width="0.3" text-anchor="start" textLength="136.5" lengthAdjust="spacing" >7-Engine speed</text>
<text x="690.0" y="370.0" font-size="18.5" fill="#1f1f1f" stroke="#1f1f1f" stroke-width="0.3" text-anchor="start" textLength="88.5" lengthAdjust="spacing" >8-Coolant</text>
<text x="514.0" y="420.0" font-size="18.5" fill="#1f1f1f" stroke="#1f1f1f" stroke-width="0.3" text-anchor="start" textLength="125.0" lengthAdjust="spacing" >9-Light sensor</text>
<text x="651.0" y="420.0" font-size="18.5" fill="#1f1f1f" stroke="#1f1f1f" stroke-width="0.3" text-anchor="start" textLength="126.5" lengthAdjust="spacing" >10-Gear alarm</text>
<text x="569.5" y="456.0" font-size="18.5" fill="#1f1f1f" stroke="#1f1f1f" stroke-width="0.3" text-anchor="start" textLength="67.0" lengthAdjust="spacing" >11-Data</text>
<text x="649.7" y="456.0" font-size="18.5" fill="#1f1f1f" stroke="#1f1f1f" stroke-width="0.3" text-anchor="start" textLength="128.0" lengthAdjust="spacing" >12-Dial button</text>
<text x="507.4" y="494.0" font-size="18.5" fill="#1f1f1f" stroke="#1f1f1f" stroke-width="0.3" text-anchor="start" textLength="262.5" lengthAdjust="spacing" >13-Engine speed,Air pressure,</text>
<text x="537.0" y="515.5" font-size="18.5" fill="#1f1f1f" stroke="#1f1f1f" stroke-width="0.3" text-anchor="start" textLength="189.5" lengthAdjust="spacing" >Coolant,Time,Voltage</text>
<text x="507.4" y="542.5" font-size="18.5" fill="#1f1f1f" stroke="#1f1f1f" stroke-width="0.3" text-anchor="start" textLength="268.5" lengthAdjust="spacing" >14-Ignition angle,Acceleration</text>
<text x="507.4" y="572.5" font-size="18.5" fill="#1f1f1f" stroke="#1f1f1f" stroke-width="0.3" text-anchor="start" textLength="145.5" lengthAdjust="spacing" >15-Throttle ,Fuel</text>
<text x="507.4" y="605.0" font-size="18.5" fill="#1f1f1f" stroke="#1f1f1f" stroke-width="0.3" text-anchor="start" textLength="69.5" lengthAdjust="spacing" >16-Data</text>
</svg>
</body></html>
